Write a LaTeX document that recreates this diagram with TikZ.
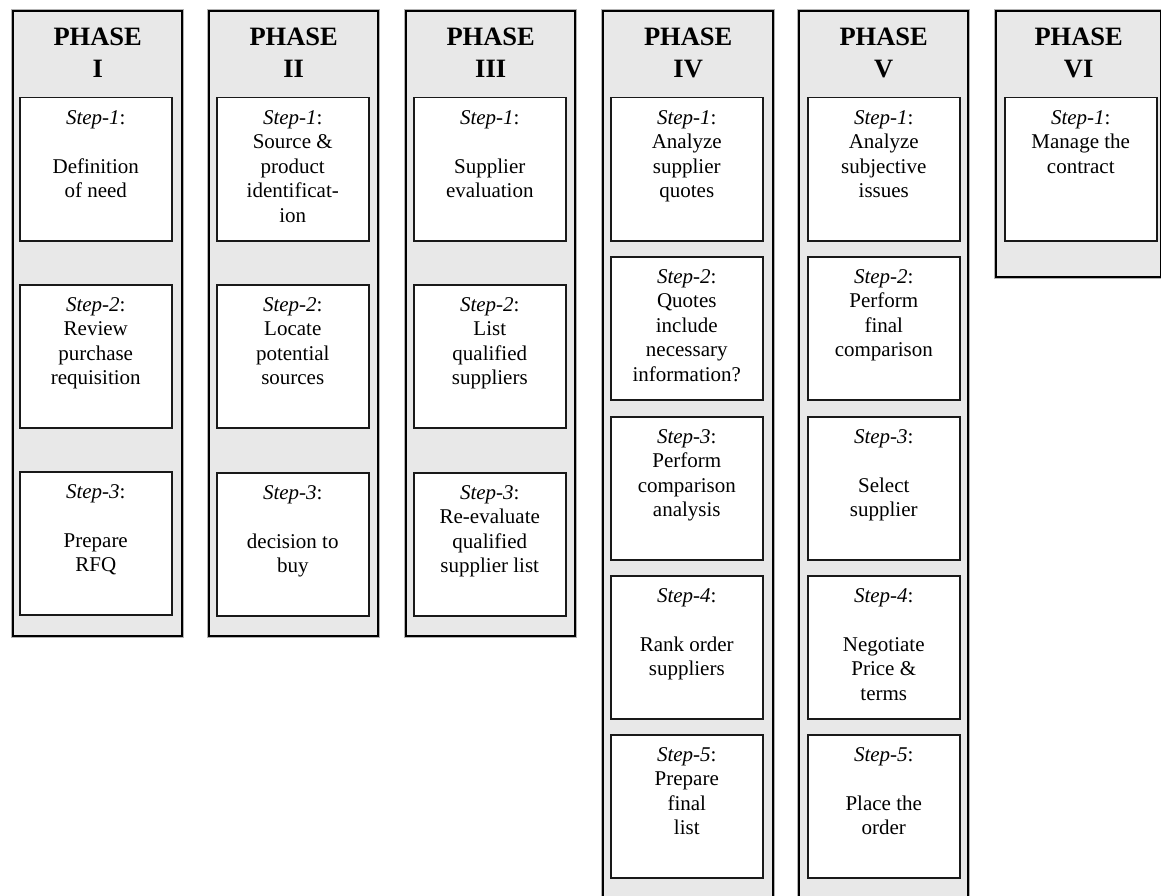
\documentclass[tikz,border=0pt]{standalone}
\usepackage{fontspec}
\setmainfont{Liberation Serif}
\definecolor{phasegray}{HTML}{E8E8E8}
\tikzset{
  phasebox/.style={preaction={draw=gray!60, line width=4.2pt}, fill=phasegray, draw=black, line width=2.4pt, anchor=north west, inner sep=0pt},
  stepbox/.style={fill=white, draw=black!90, line width=1.5pt, anchor=north west, minimum width=152pt, minimum height=143pt, inner sep=0pt},
  steptext/.style={align=center, font=\fontsize{21}{24.5}\selectfont, anchor=north, inner sep=0pt},
  phasetitle/.style={align=center, font=\fontsize{26.5}{32}\selectfont\bfseries, anchor=north, inner sep=0pt}
}
\newcommand\stepcell[4]{%
  \node[stepbox] (#1) at (#2,#3) {};
  \node[steptext] (#1t) at ([yshift=-13pt]#1.north) {#4};
}
\newcommand\phasecol[5]{%
  \node[phasebox, minimum width=#3pt, minimum height=#4pt] (#1) at (#2,10) {};
  \node[phasetitle] (#1t) at ([yshift=-18pt]#1.north) {PHASE\\#5};
}
\begin{document}
\begin{tikzpicture}[x=1pt,y=-1pt]
\useasboundingbox (0,0) rectangle (1161,896);
% Phase columns
\phasecol{p1}{12}{169}{625}{I}
\phasecol{p2}{208}{169}{625}{II}
\phasecol{p3}{405}{169}{625}{III}
\phasecol{p4}{602}{170}{890}{IV}
\phasecol{p5}{798}{169}{890}{V}
\phasecol{p6}{995}{165}{266}{VI}
% Phase I
\stepcell{p1a}{19}{97}{\textit{Step-1}:\\[24.5pt]Definition\\of need}
\stepcell{p1b}{19}{284}{\textit{Step-2}:\\Review\\purchase\\requisition}
\stepcell{p1c}{19}{471}{\textit{Step-3}:\\[24.5pt]Prepare\\RFQ}
% Phase II
\stepcell{p2a}{216}{97}{\textit{Step-1}:\\Source \&\\product\\identificat-\\ion}
\stepcell{p2b}{216}{284}{\textit{Step-2}:\\Locate\\potential\\sources}
\stepcell{p2c}{216}{472}{\textit{Step-3}:\\[24.5pt]decision to\\buy}
% Phase III
\stepcell{p3a}{413}{97}{\textit{Step-1}:\\[24.5pt]Supplier\\evaluation}
\stepcell{p3b}{413}{284}{\textit{Step-2}:\\List\\qualified\\suppliers}
\stepcell{p3c}{413}{472}{\textit{Step-3}:\\Re-evaluate\\qualified\\supplier list}
% Phase IV
\stepcell{p4a}{610}{97}{\textit{Step-1}:\\Analyze\\supplier\\quotes}
\stepcell{p4b}{610}{256}{\textit{Step-2}:\\Quotes\\include\\necessary\\information?}
\stepcell{p4c}{610}{416}{\textit{Step-3}:\\Perform\\comparison\\analysis}
\stepcell{p4d}{610}{575}{\textit{Step-4}:\\[24.5pt]Rank order\\suppliers}
\stepcell{p4e}{610}{734}{\textit{Step-5}:\\Prepare\\final\\list}
% Phase V
\stepcell{p5a}{807}{97}{\textit{Step-1}:\\Analyze\\subjective\\issues}
\stepcell{p5b}{807}{256}{\textit{Step-2}:\\Perform\\final\\comparison}
\stepcell{p5c}{807}{416}{\textit{Step-3}:\\[24.5pt]Select\\supplier}
\stepcell{p5d}{807}{575}{\textit{Step-4}:\\[24.5pt]Negotiate\\Price \&\\terms}
\stepcell{p5e}{807}{734}{\textit{Step-5}:\\[24.5pt]Place the\\order}
% Phase VI
\stepcell{p6a}{1004}{97}{\textit{Step-1}:\\Manage the\\contract}
\end{tikzpicture}
\end{document}
